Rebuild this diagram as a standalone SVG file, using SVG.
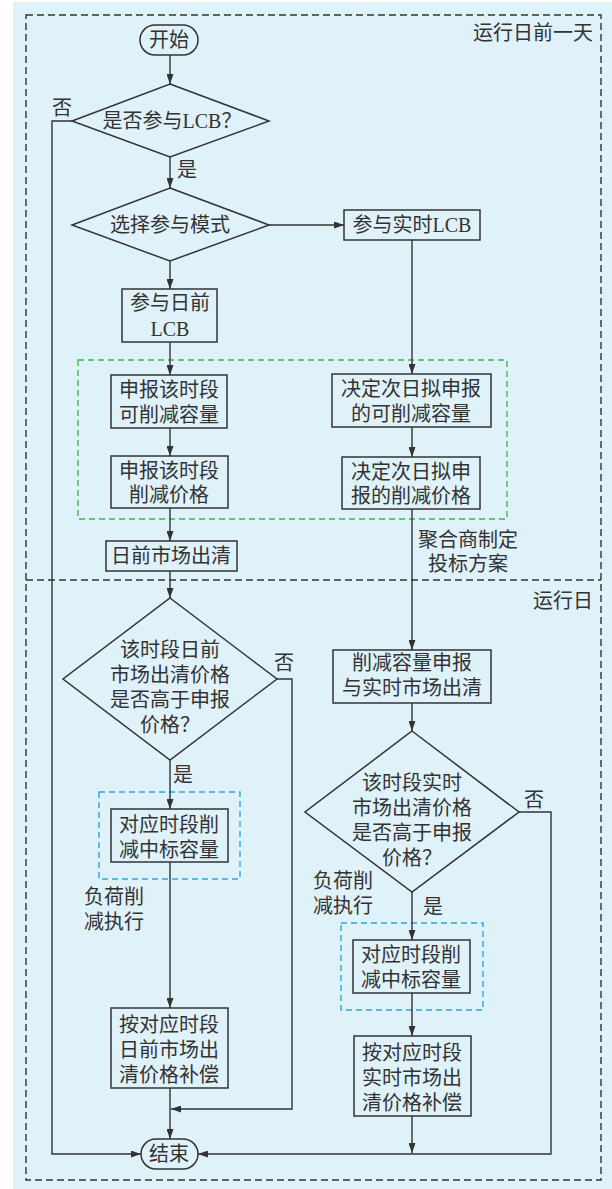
<svg xmlns="http://www.w3.org/2000/svg" width="612" height="1189" viewBox="0 0 612 1189">
<style>
.t{font-family:"Liberation Serif","Noto Sans CJK SC",serif;font-size:20px;fill:#333;text-anchor:middle;dominant-baseline:central}
.l{text-anchor:start}
.e{text-anchor:end}
.n{fill:none;stroke:#333;stroke-width:1.5}
.c{fill:none;stroke:#333;stroke-width:1.4;marker-end:url(#ah)}
.cn{fill:none;stroke:#333;stroke-width:1.4}
</style>
<defs>
<marker id="ah" viewBox="0 0 10 7" refX="10" refY="3.5" markerWidth="10" markerHeight="7" markerUnits="userSpaceOnUse" orient="auto">
<path d="M0,0 L10,3.5 L0,7 z" fill="#333"/>
</marker>
</defs>
<rect x="13" y="2" width="599" height="1187" fill="#dff1f9"/>
<g id="regions">
<rect x="26" y="15" width="575" height="1165" fill="none" stroke="#333" stroke-width="1.4" stroke-dasharray="7,4"/>
<line x1="26" y1="580" x2="601" y2="580" stroke="#333" stroke-width="1.4" stroke-dasharray="7,4"/>
<text class="t e" x="593" y="33">运行日前一天</text>
<text class="t e" x="593" y="601">运行日</text>
<rect x="78" y="360" width="429" height="159" fill="none" stroke="#3cb94a" stroke-width="1.4" stroke-dasharray="6,4"/>
<rect x="99" y="792" width="141" height="87" fill="none" stroke="#29a8e0" stroke-width="1.4" stroke-dasharray="6,4"/>
<rect x="341" y="923" width="142" height="87" fill="none" stroke="#29a8e0" stroke-width="1.4" stroke-dasharray="6,4"/>
</g>
<g id="connectors">
<path class="c" d="M170,55 V84"/>
<path class="c" d="M170,157 V188"/>
<path class="c" d="M269,225 H344"/>
<path class="c" d="M170,261 V289"/>
<path class="c" d="M412,240 V374"/>
<path class="c" d="M170,342 V375"/>
<path class="c" d="M170,428 V456"/>
<path class="c" d="M412,427 V457"/>
<path class="c" d="M170,508 V541"/>
<path class="c" d="M412,509 V650"/>
<path class="c" d="M170,571 V598"/>
<path class="c" d="M170,760 V809"/>
<path class="c" d="M170,862 V1008"/>
<path class="c" d="M170,1088 V1139"/>
<path class="c" d="M277,679 H292 V1109 H171"/>
<path class="c" d="M72,121 H52 V1154 H141"/>
<path class="c" d="M412,703 V731"/>
<path class="c" d="M412,892 V940"/>
<path class="c" d="M412,993 V1036"/>
<path class="c" d="M412,1116 V1153"/>
<path class="c" d="M519,812 H551 V1154 H198"/>
<text class="t" x="62" y="108">否</text>
<text class="t" x="187" y="170">是</text>
<text class="t" x="284" y="663">否</text>
<text class="t" x="183" y="775">是</text>
<text class="t" x="534" y="800">否</text>
<text class="t" x="433" y="907">是</text>
<text class="t l" x="84" y="897">负荷削</text>
<text class="t l" x="84" y="922">减执行</text>
<text class="t l" x="313" y="881">负荷削</text>
<text class="t l" x="313" y="906">减执行</text>
<text class="t" x="468" y="540">聚合商制定</text>
<text class="t" x="468" y="564">投标方案</text>
</g>
<g id="start"><rect class="n" x="140" y="25" width="58" height="30" rx="15"/><text class="t" x="169" y="40">开始</text></g>
<g id="d1"><path class="n" d="M170,84 L269,121 L170,157 L72,121 Z"/><text class="t" x="172" y="121">是否参与LCB？</text></g>
<g id="d2"><path class="n" d="M170,188 L269,225 L170,261 L72,225 Z"/><text class="t" x="170" y="225">选择参与模式</text></g>
<g id="rt"><rect class="n" x="344" y="210" width="136" height="30"/><text class="t" x="412" y="225">参与实时LCB</text></g>
<g id="da"><rect class="n" x="122" y="289" width="95" height="53"/><text class="t" x="170" y="303">参与日前</text><text class="t" x="170" y="329">LCB</text></g>
<g id="l1"><rect class="n" x="111" y="375" width="116" height="53"/><text class="t" x="169" y="390">申报该时段</text><text class="t" x="169" y="415">可削减容量</text></g>
<g id="r1"><rect class="n" x="332" y="374" width="159" height="53"/><text class="t" x="411" y="389">决定次日拟申报</text><text class="t" x="411" y="414">的可削减容量</text></g>
<g id="l2"><rect class="n" x="111" y="456" width="117" height="52"/><text class="t" x="169" y="471">申报该时段</text><text class="t" x="169" y="495">削减价格</text></g>
<g id="r2"><rect class="n" x="342" y="457" width="138" height="52"/><text class="t" x="411" y="472">决定次日拟申</text><text class="t" x="411" y="496">报的削减价格</text></g>
<g id="dac"><rect class="n" x="106" y="541" width="131" height="30"/><text class="t" x="171" y="556">日前市场出清</text></g>
<g id="d3"><path class="n" d="M170,598 L277,679 L170,760 L63,679 Z"/><text class="t" x="170" y="650">该时段日前</text><text class="t" x="170" y="675">市场出清价格</text><text class="t" x="170" y="700">是否高于申报</text><text class="t" x="170" y="725">价格？</text></g>
<g id="l3"><rect class="n" x="111" y="809" width="117" height="53"/><text class="t" x="169" y="825">对应时段削</text><text class="t" x="169" y="850">减中标容量</text></g>
<g id="l4"><rect class="n" x="111" y="1008" width="117" height="80"/><text class="t" x="169" y="1025">按对应时段</text><text class="t" x="169" y="1050">日前市场出</text><text class="t" x="169" y="1075">清价格补偿</text></g>
<g id="r3"><rect class="n" x="333" y="650" width="158" height="53"/><text class="t" x="412" y="663">削减容量申报</text><text class="t" x="412" y="688">与实时市场出清</text></g>
<g id="d4"><path class="n" d="M412,731 L519,812 L412,892 L305,812 Z"/><text class="t" x="412" y="783">该时段实时</text><text class="t" x="412" y="808">市场出清价格</text><text class="t" x="412" y="833">是否高于申报</text><text class="t" x="412" y="858">价格？</text></g>
<g id="r4"><rect class="n" x="353" y="940" width="117" height="53"/><text class="t" x="411" y="955">对应时段削</text><text class="t" x="411" y="980">减中标容量</text></g>
<g id="r5"><rect class="n" x="354" y="1036" width="117" height="80"/><text class="t" x="412" y="1053">按对应时段</text><text class="t" x="412" y="1078">实时市场出</text><text class="t" x="412" y="1103">清价格补偿</text></g>
<g id="end"><rect class="n" x="141" y="1139" width="57" height="30" rx="15"/><text class="t" x="169" y="1154">结束</text></g>
</svg>
